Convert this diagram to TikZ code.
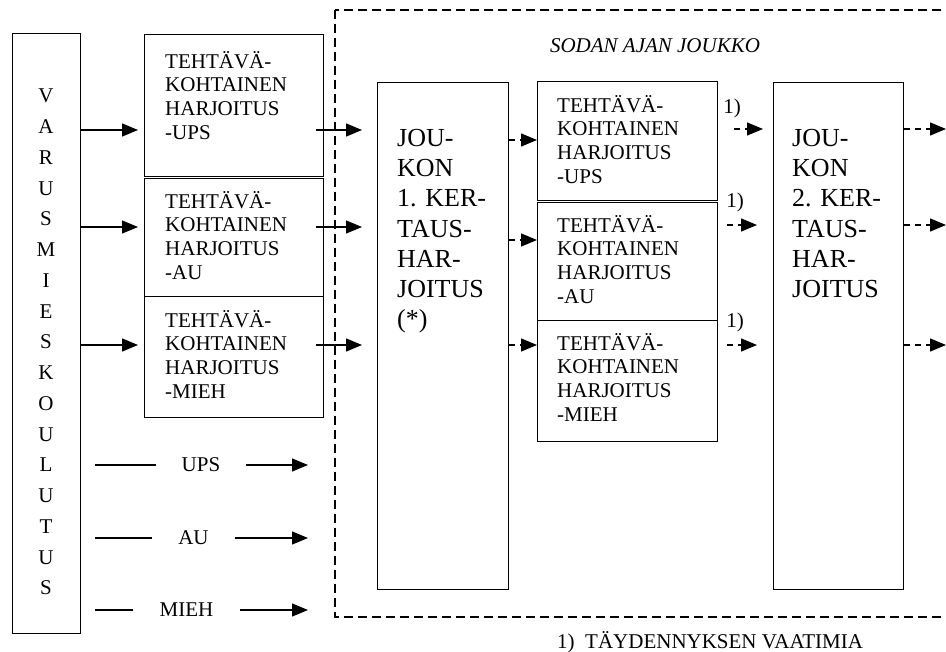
\documentclass[tikz,border=0pt]{standalone}
\usepackage{fontspec}
\setmainfont{Liberation Serif}
\usetikzlibrary{arrows.meta}
\tikzstyle{box} = [draw, line width=1.3pt, anchor=north west, inner sep=0pt]
\tikzstyle{tasktext} = [anchor=north west, align=left, inner sep=0pt, font=\fontsize{21}{23.7}\selectfont]
\tikzstyle{jtext} = [anchor=north west, align=left, inner sep=0pt, font=\fontsize{26}{30.2}\selectfont]
\tikzstyle{legend} = [inner xsep=26pt, inner ysep=0pt, font=\fontsize{21}{25}\selectfont]
\tikzstyle{arrow} = [line width=1.3pt, -{Triangle[length=16pt,width=13pt]}]
\tikzstyle{darrow} = [arrow, dash pattern=on 6pt off 5pt]
\tikzstyle{frame} = [line width=1.3pt, dash pattern=on 9pt off 5pt]

\begin{document}
\begin{tikzpicture}[x=1pt, y=-1pt]
        \useasboundingbox (0,0) rectangle (946,652);
        \draw[frame] (335,10) rectangle (990,617);
        \node[font=\fontsize{21}{25}\selectfont\itshape, anchor=base] (sodan) at (655,53) {SODAN AJAN JOUKKO};
        % boxes
        \node[box, minimum width=68pt, minimum height=600pt] (varus) at (12,33) {};
        \node[box, minimum width=179pt, minimum height=142pt] (lt1) at (144,34) {};
        \node[box, minimum width=179pt, minimum height=118pt] (lt2) at (144,178) {};
        \node[box, minimum width=179pt, minimum height=121pt] (lt3) at (144,296) {};
        \node[box, minimum width=131pt, minimum height=507pt] (joukon1) at (377,82) {};
        \node[box, minimum width=180pt, minimum height=119pt] (mt1) at (537,81) {};
        \node[box, minimum width=180pt, minimum height=118pt] (mt2) at (537,202) {};
        \node[box, minimum width=180pt, minimum height=121pt] (mt3) at (537,320) {};
        \node[box, minimum width=130pt, minimum height=507pt] (joukon2) at (773,82) {};
        % texts
        \node[align=center, inner sep=0pt, anchor=north, font=\fontsize{21}{30.75}\selectfont] (varustext) at (46,89)
            {V\\A\\R\\U\\S\\M\\I\\E\\S\\K\\O\\U\\L\\U\\T\\U\\S};
        \node[tasktext] (lt1text) at (165,51) {TEHTÄVÄ-\\KOHTAINEN\\HARJOITUS\\-UPS};
        \node[tasktext] (lt2text) at (165,191) {TEHTÄVÄ-\\KOHTAINEN\\HARJOITUS\\-AU};
        \node[tasktext] (lt3text) at (165,310) {TEHTÄVÄ-\\KOHTAINEN\\HARJOITUS\\-MIEH};
        \node[jtext] (j1text) at (397,129) {JOU-\\KON\\1. KER-\\TAUS-\\HAR-\\JOITUS\\(*)};
        \node[tasktext] (mt1text) at (557,95) {TEHTÄVÄ-\\KOHTAINEN\\HARJOITUS\\-UPS};
        \node[tasktext] (mt2text) at (557,215) {TEHTÄVÄ-\\KOHTAINEN\\HARJOITUS\\-AU};
        \node[tasktext] (mt3text) at (557,333) {TEHTÄVÄ-\\KOHTAINEN\\HARJOITUS\\-MIEH};
        \node[jtext] (j2text) at (792,129) {JOU-\\KON\\2. KER-\\TAUS-\\HAR-\\JOITUS};
        \node[font=\fontsize{21}{25}\selectfont] (fn1) at (732,108) {1)};
        \node[font=\fontsize{21}{25}\selectfont] (fn2) at (735,202) {1)};
        \node[font=\fontsize{21}{25}\selectfont] (fn3) at (735,322) {1)};
        \node[font=\fontsize{21}{25}\selectfont, anchor=base west, inner sep=0pt] (note) at (557,648) {1)\ \ TÄYDENNYKSEN VAATIMIA};
        % rows
        \coordinate (r1) at (0,130);
        \coordinate (r2) at (0,227);
        \coordinate (r3) at (0,345);
        \coordinate (m1) at (0,140);
        \coordinate (m2) at (0,240);
        \coordinate (m3) at (0,345);
        \coordinate (o1) at (946,129);
        \coordinate (o2) at (946,225);
        \coordinate (o3) at (946,345);
        % solid arrows
        \draw[arrow, shorten >=6pt] (varus.east |- r1) -- (lt1.west |- r1);
        \draw[arrow, shorten >=6pt] (varus.east |- r2) -- (lt2.west |- r2);
        \draw[arrow, shorten >=6pt] (varus.east |- r3) -- (lt3.west |- r3);
        \draw[arrow, shorten <=-8pt, shorten >=15pt] (lt1.east |- r1) -- (joukon1.west |- r1);
        \draw[arrow, shorten <=-8pt, shorten >=15pt] (lt2.east |- r2) -- (joukon1.west |- r2);
        \draw[arrow, shorten <=-8pt, shorten >=15pt] (lt3.east |- r3) -- (joukon1.west |- r3);
        % dashed arrows
        \draw[darrow] (joukon1.east |- m1) -- (mt1.west |- m1);
        \draw[darrow] (joukon1.east |- m2) -- (mt2.west |- m2);
        \draw[darrow] (joukon1.east |- m3) -- (mt3.west |- m3);
        \draw[darrow, shorten <=16pt, shorten >=10pt] (mt1.east |- o1) -- (joukon2.west |- o1);
        \draw[darrow, shorten <=9pt, shorten >=16pt] (mt2.east |- o2) -- (joukon2.west |- o2);
        \draw[darrow, shorten <=9pt, shorten >=16pt] (mt3.east |- o3) -- (joukon2.west |- o3);
        \draw[darrow] (joukon2.east |- o1) -- (o1);
        \draw[darrow] (joukon2.east |- o2) -- (o2);
        \draw[darrow] (joukon2.east |- o3) -- (o3);
        % legend
        \node[legend] (lups) at (201,465) {UPS};
        \node[legend] (lau) at (193.5,538) {AU};
        \node[legend] (lmieh) at (186.5,610) {MIEH};
        \coordinate (s1) at (95,465);
        \coordinate (s2) at (95,538);
        \coordinate (s3) at (95,610);
        \coordinate (e1) at (308,465);
        \coordinate (e2) at (308,538);
        \coordinate (e3) at (308,610);
        \draw[line width=1.3pt] (s1) -- (lups.west);
        \draw[line width=1.3pt] (s2) -- (lau.west);
        \draw[line width=1.3pt] (s3) -- (lmieh.west);
        \draw[arrow] (lups.east) -- (e1);
        \draw[arrow] (lau.east) -- (e2);
        \draw[arrow] (lmieh.east) -- (e3);
    \end{tikzpicture}
\end{document}
